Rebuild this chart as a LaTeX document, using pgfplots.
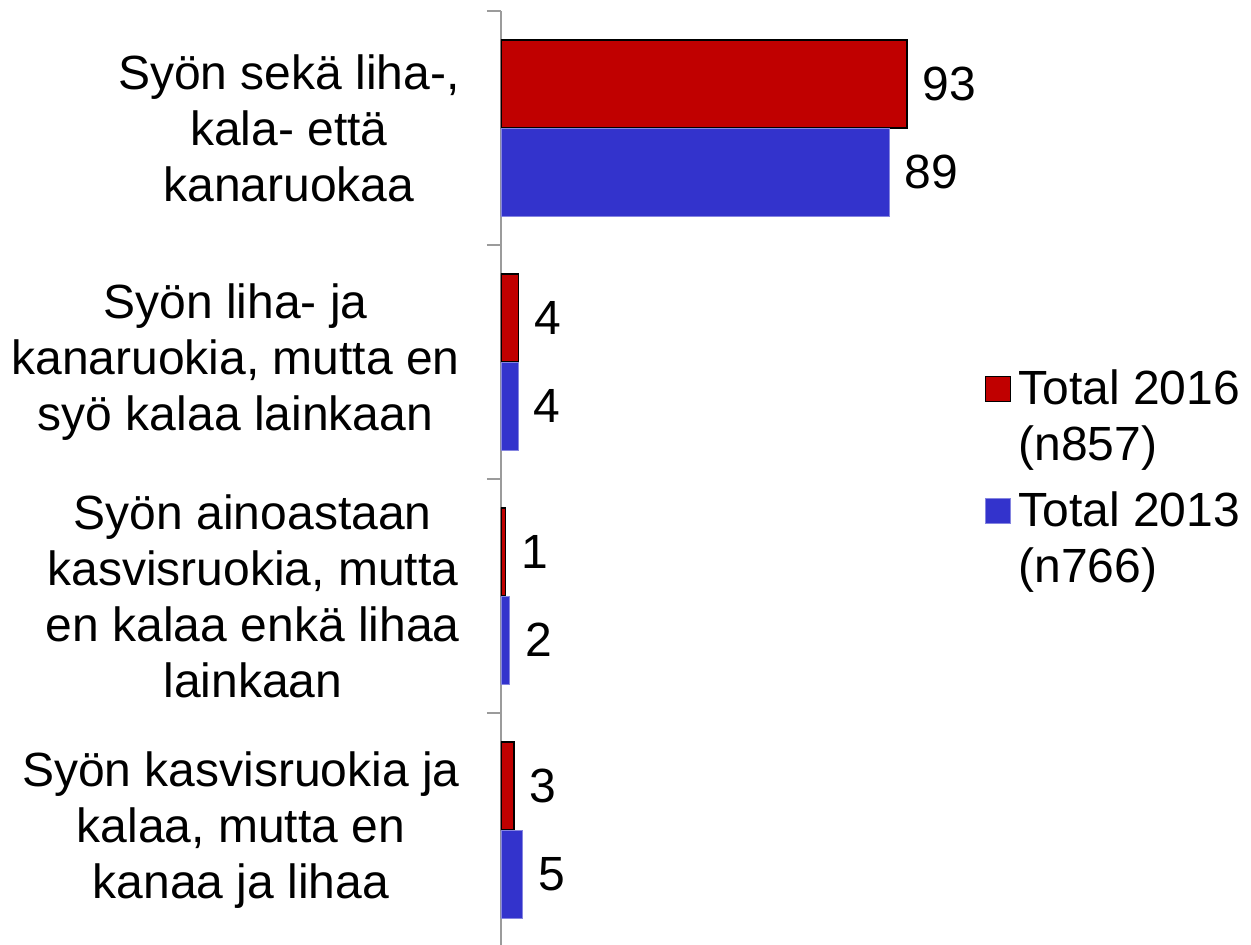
\documentclass[border=0pt]{standalone}
\usepackage{fontspec}
\setmainfont{Liberation Sans}
\usepackage{pgfplots}
\pgfplotsset{compat=1.18}
\definecolor{cred}{RGB}{192,0,0}
\definecolor{cblue}{RGB}{51,51,204}
\definecolor{caxis}{RGB}{155,155,155}
\newcommand{\bigf}{\fontsize{24}{28}\selectfont}
\begin{document}
\begin{tikzpicture}[x=1pt,y=1pt]
\useasboundingbox (-250.5,1.5) rectangle (375,473.5);
\begin{axis}[
  at={(0,0)}, anchor=south west,
  scale only axis, width=218.3pt, height=468pt,
  xmin=0, xmax=100, ymin=-0.5, ymax=3.5, y dir=reverse,
  xbar, bar width=44pt,
  axis x line=none, axis y line=left,
  y axis line style={-, caxis, line width=1pt},
  ytick={0,1,2,3},
  yticklabels={{Syön sekä liha-,\\kala- että\\kanaruokaa},
               {Syön liha- ja\\kanaruokia, mutta en\\syö kalaa lainkaan},
               {Syön ainoastaan\\kasvisruokia, mutta\\en kalaa enkä lihaa\\lainkaan},
               {Syön kasvisruokia ja\\kalaa, mutta en\\kanaa ja lihaa}},
  major tick length=0pt,
  minor ytick={-0.5,0.5,1.5,2.5,3.5},
  minor tick length=7pt,
  tick align=outside,
  every tick/.style={caxis, line width=1pt},
  yticklabel style={align=center, font=\bigf, inner sep=0pt, xshift=-20.5pt},
  point meta=x,
  nodes near coords,
  every node near coord/.append style={font=\bigf, inner sep=0pt, xshift=7.5pt, black},
  /pgf/number format/assume math mode=true,
  legend style={at={(axis description cs:1.1074,0.6215)}, anchor=north west,
    draw=none, fill=none, inner sep=0pt, font=\bigf,
    cells={align=left, anchor=west}, row sep=10pt},
  legend image code/.code={\draw[#1, line width=0.6pt] (0pt,7.5pt) rectangle (12.5pt,20pt);
     \path[draw=none, fill=none] (0pt,13pt) -- (14.5pt,13pt);},
]
\addplot[fill=cred, draw=black, line width=0.8pt, bar shift=22pt] coordinates {(93,0) (4,1) (1,2) (3,3)};
\addlegendentry{Total 2016\\(n857)}
\addplot[fill=cblue, draw=cblue!60!white, line width=0.4pt, bar shift=-22pt] coordinates {(89,0) (4,1) (2,2) (5,3)};
\addlegendentry{Total 2013\\(n766)}
\end{axis}
\end{tikzpicture}
\end{document}
